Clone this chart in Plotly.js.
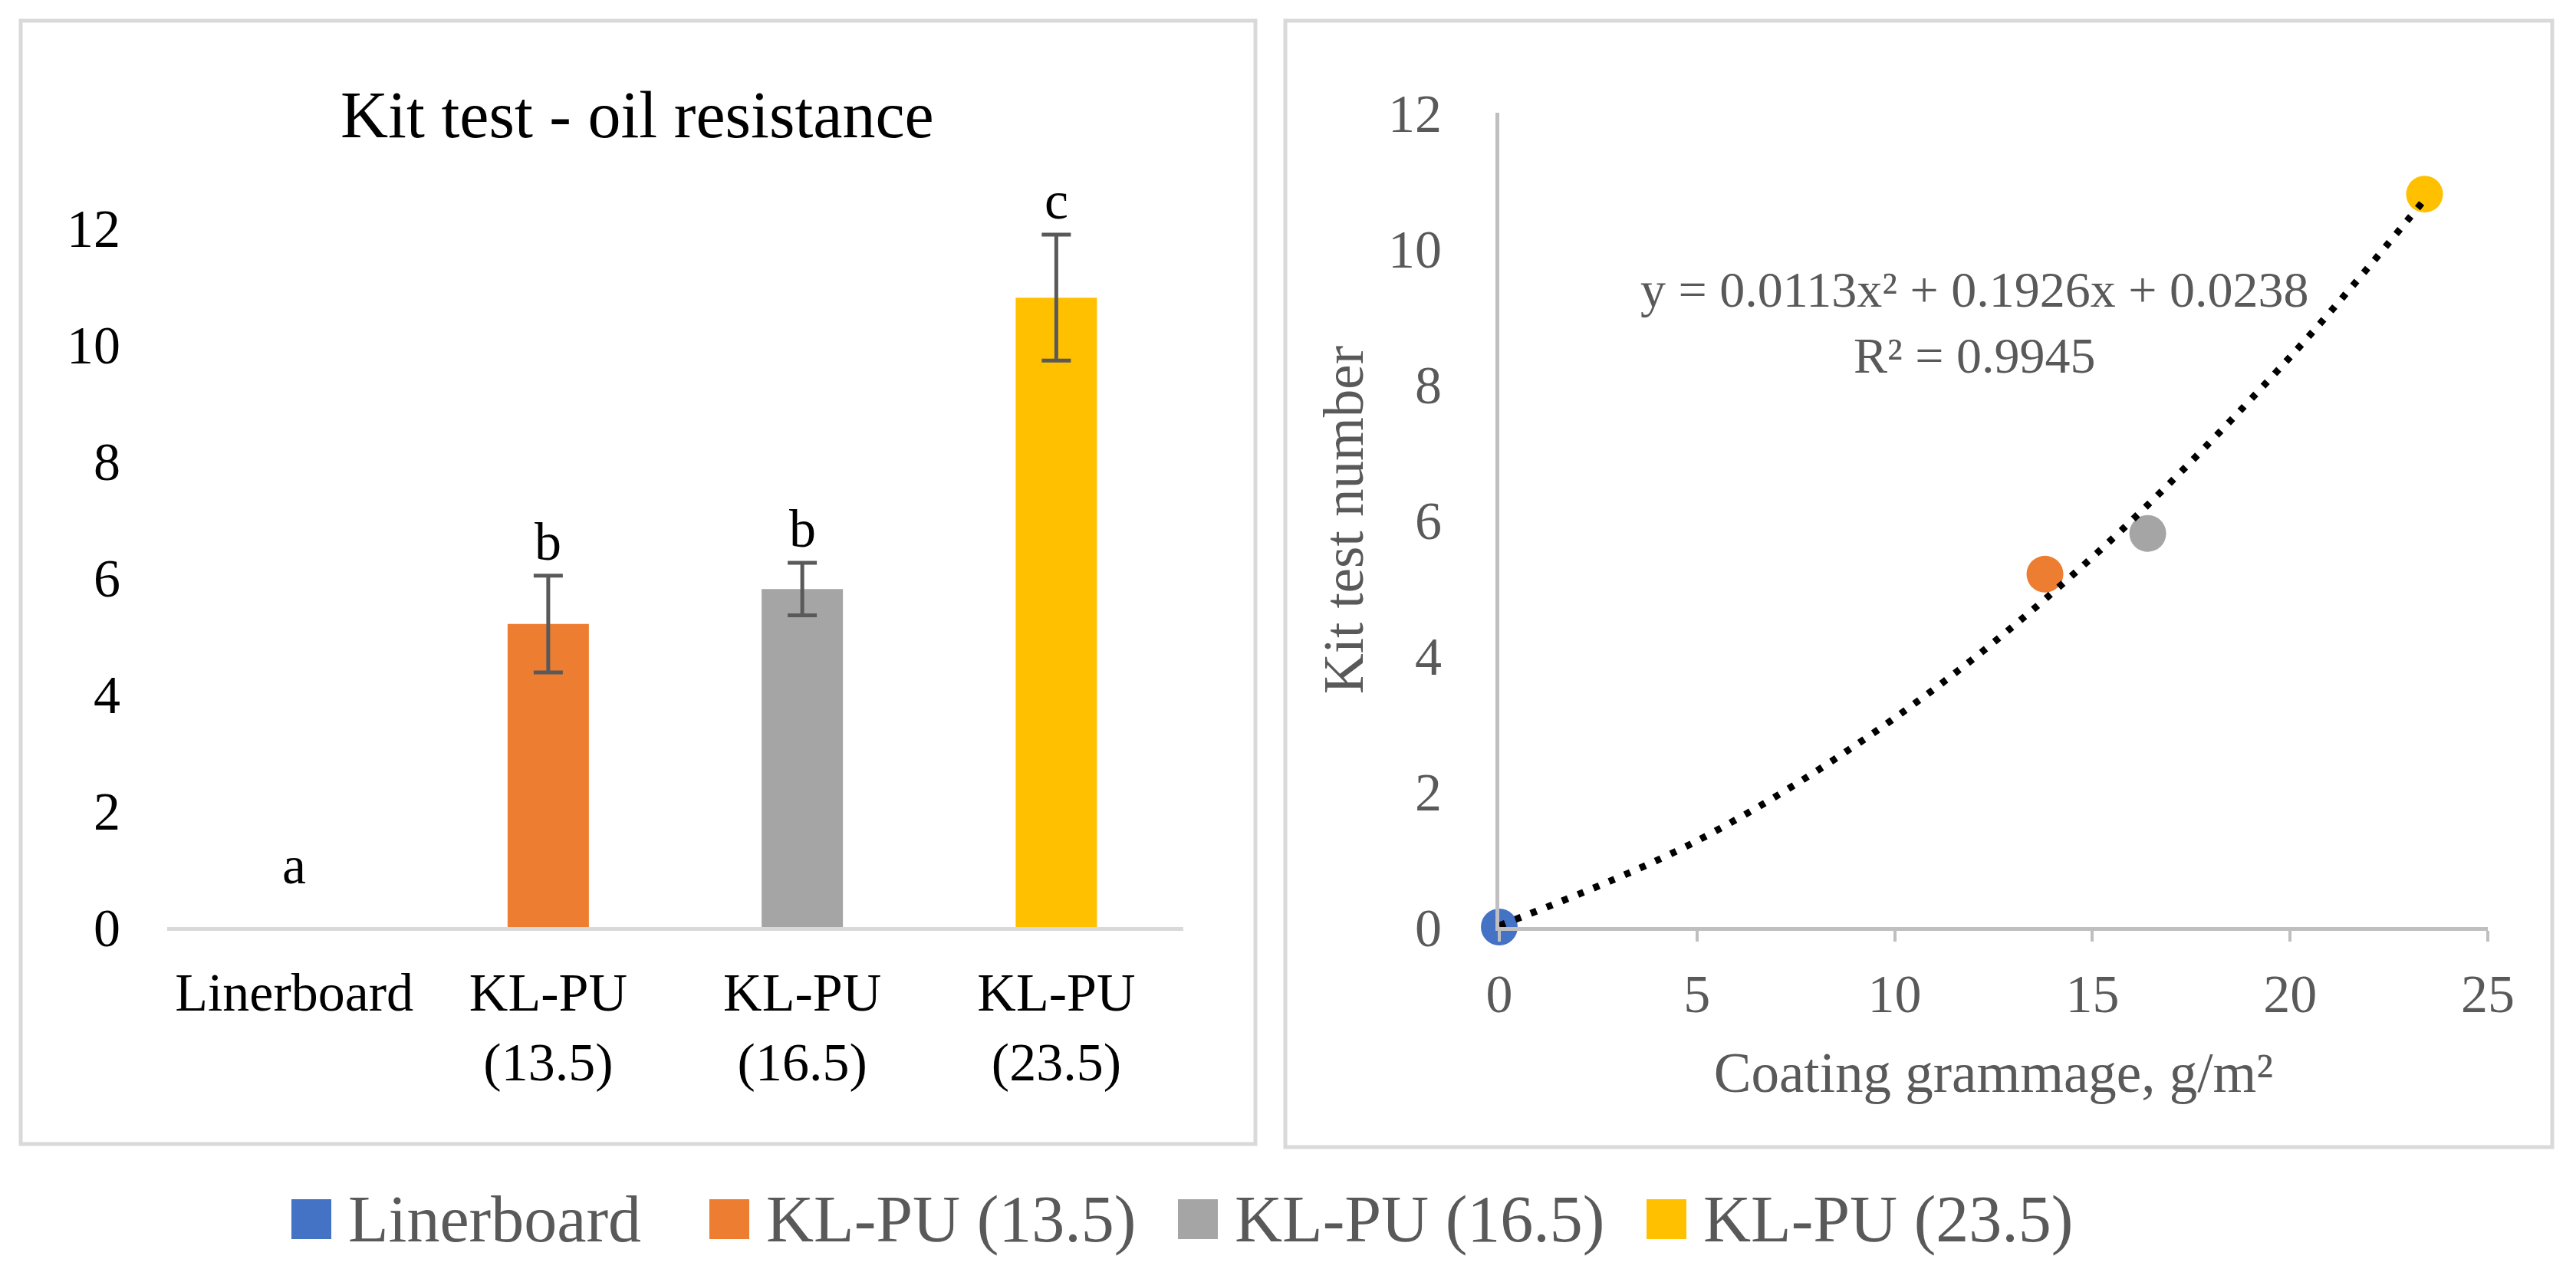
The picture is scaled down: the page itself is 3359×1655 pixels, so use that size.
<!DOCTYPE html>
<html>
<head>
<meta charset="utf-8">
<script src="https://cdn.plot.ly/plotly-3.0.1.min.js"></script>
<style>html,body{margin:0;padding:0;background:#fff}</style>
</head>
<body>
<div id="chart" style="width:3359px;height:1655px"></div>
<script>
// kit test data
var samples = ['Linerboard', 'KL-PU (13.5)', 'KL-PU (16.5)', 'KL-PU (23.5)'];
var barLabels = ['Linerboard', 'KL-PU<br>(13.5)', 'KL-PU<br>(16.5)', 'KL-PU<br>(23.5)'];
var kitValues = [0, 5.2, 5.8, 10.8];
var kitErrors = [0, 0.83, 0.45, 1.08];
var sigLetters = ['a', 'b', 'b', 'c'];
var grammage = [0, 13.8, 16.4, 23.4];
// dotted polynomial trendline
var trendX = [0, 5, 10, 15, 20, 23.4];
var trendY = [0.02, 1.27, 3.08, 5.45, 8.40, 10.72];
var fitText = 'y = 0.0113x² + 0.1926x + 0.0238<br>R² = 0.9945';
var colors = ['#4472C4', '#ED7D31', '#A5A5A5', '#FFC000'];

var W = 3359, H = 1655;
function px(x) { return x / W; }
function py(y) { return 1 - y / H; }

var FONT = 'Liberation Serif, Times New Roman, serif';
var GREY = '#595959';

var traces = [];
samples.forEach(function (s, i) {
    var t = {
        type: 'bar',
        x: [barLabels[i]],
        y: [kitValues[i]],
        width: 0.32,
        marker: { color: colors[i] },
        name: s,
        showlegend: false,
        xaxis: 'x', yaxis: 'y'
    };
    if (kitErrors[i] > 0) {
        t.error_y = { type: 'data', array: [kitErrors[i]], color: GREY, thickness: 5, width: 19 };
    }
    traces.push(t);
});
samples.forEach(function (s, i) {
    traces.push({
        type: 'scatter',
        mode: 'markers',
        x: [grammage[i]],
        y: [kitValues[i]],
        marker: { color: colors[i], size: 48 },
        name: s,
        showlegend: false,
        cliponaxis: false,
        xaxis: 'x2', yaxis: 'y2'
    });
});
traces.push({
    type: 'scatter',
    mode: 'lines',
    x: trendX,
    y: trendY,
    line: { color: '#000', width: 9, dash: '8px,14px', shape: 'spline', smoothing: 1 },
    showlegend: false,
    cliponaxis: false,
    xaxis: 'x2', yaxis: 'y2'
});

var annotations = [];
sigLetters.forEach(function (l, i) {
    annotations.push({
        xref: 'x', yref: 'y',
        x: barLabels[i], y: kitValues[i] + kitErrors[i],
        text: l, showarrow: false,
        yanchor: 'bottom', yshift: kitErrors[i] > 0 ? 4 : 40,
        font: { family: FONT, size: 70, color: '#000' }
    });
});
annotations.push({
    xref: 'paper', yref: 'paper',
    x: px(2575), y: py(420),
    text: fitText, showarrow: false,
    align: 'center', xanchor: 'center', yanchor: 'middle',
    font: { family: FONT, size: 66, color: GREY }
});
annotations.push({
    xref: 'paper', yref: 'paper',
    x: px(831), y: py(150),
    text: 'Kit test - oil resistance', showarrow: false,
    xanchor: 'center', yanchor: 'middle',
    font: { family: FONT, size: 86, color: '#000' }
});

// legend drawn by hand so the swatches can be large
var legendX = [380, 925, 1536, 2147];
var legendY = 1590;
var shapes = [
    { type: 'rect', xref: 'paper', yref: 'paper', x0: px(27), x1: px(1637), y0: py(1492), y1: py(27),
      line: { color: '#d9d9d9', width: 5 }, layer: 'below' },
    { type: 'rect', xref: 'paper', yref: 'paper', x0: px(1676), x1: px(3328), y0: py(1496), y1: py(27),
      line: { color: '#d9d9d9', width: 5 }, layer: 'below' }
];
samples.forEach(function (s, i) {
    shapes.push({
        type: 'rect', xref: 'paper', yref: 'paper',
        x0: px(legendX[i]), x1: px(legendX[i] + 52),
        y0: py(legendY + 26), y1: py(legendY - 26),
        fillcolor: colors[i], line: { width: 0 }
    });
    annotations.push({
        xref: 'paper', yref: 'paper',
        x: px(legendX[i] + 72), y: py(legendY),
        text: s, showarrow: false,
        xanchor: 'left', yanchor: 'middle',
        font: { family: FONT, size: 86, color: GREY }
    });
});

var layout = {
    width: W, height: H,
    margin: { l: 0, r: 0, t: 0, b: 0 },
    paper_bgcolor: '#fff', plot_bgcolor: 'rgba(0,0,0,0)',
    barmode: 'overlay',
    showlegend: false,
    font: { family: FONT },
    xaxis: {
        domain: [px(218), px(1543)],
        type: 'category',
        showline: true, linecolor: '#d9d9d9', linewidth: 5,
        showgrid: false, zeroline: false, ticks: '',
        ticklabelstandoff: 20,
        tickfont: { family: FONT, size: 70, color: '#000' },
        anchor: 'y'
    },
    yaxis: {
        domain: [py(1209), py(297)],
        range: [0, 12], dtick: 2,
        showline: false, showgrid: false, zeroline: false, ticks: '',
        ticklabelstandoff: 60,
        tickfont: { family: FONT, size: 70, color: '#000' },
        anchor: 'x'
    },
    xaxis2: {
        domain: [px(1955), px(3244)],
        range: [0, 25], dtick: 5,
        showline: true, linecolor: '#bfbfbf', linewidth: 5,
        showgrid: false, zeroline: false,
        ticks: 'outside', ticklen: 14, tickwidth: 4, tickcolor: '#bfbfbf',
        ticklabelstandoff: 8,
        tickfont: { family: FONT, size: 70, color: GREY },
        title: { text: 'Coating grammage, g/m²', font: { family: FONT, size: 73, color: GREY }, standoff: 40 },
        anchor: 'y2'
    },
    yaxis2: {
        domain: [py(1209), py(147)],
        range: [0, 12], dtick: 2,
        showline: true, linecolor: '#bfbfbf', linewidth: 5,
        showgrid: false, zeroline: false, ticks: '',
        ticklabelstandoff: 56,
        tickfont: { family: FONT, size: 70, color: GREY },
        title: { text: 'Kit test number', font: { family: FONT, size: 73, color: GREY }, standoff: 10 },
        anchor: 'x2'
    },
    annotations: annotations,
    shapes: shapes
};

Plotly.newPlot('chart', traces, layout, { staticPlot: true });
</script>
</body>
</html>
